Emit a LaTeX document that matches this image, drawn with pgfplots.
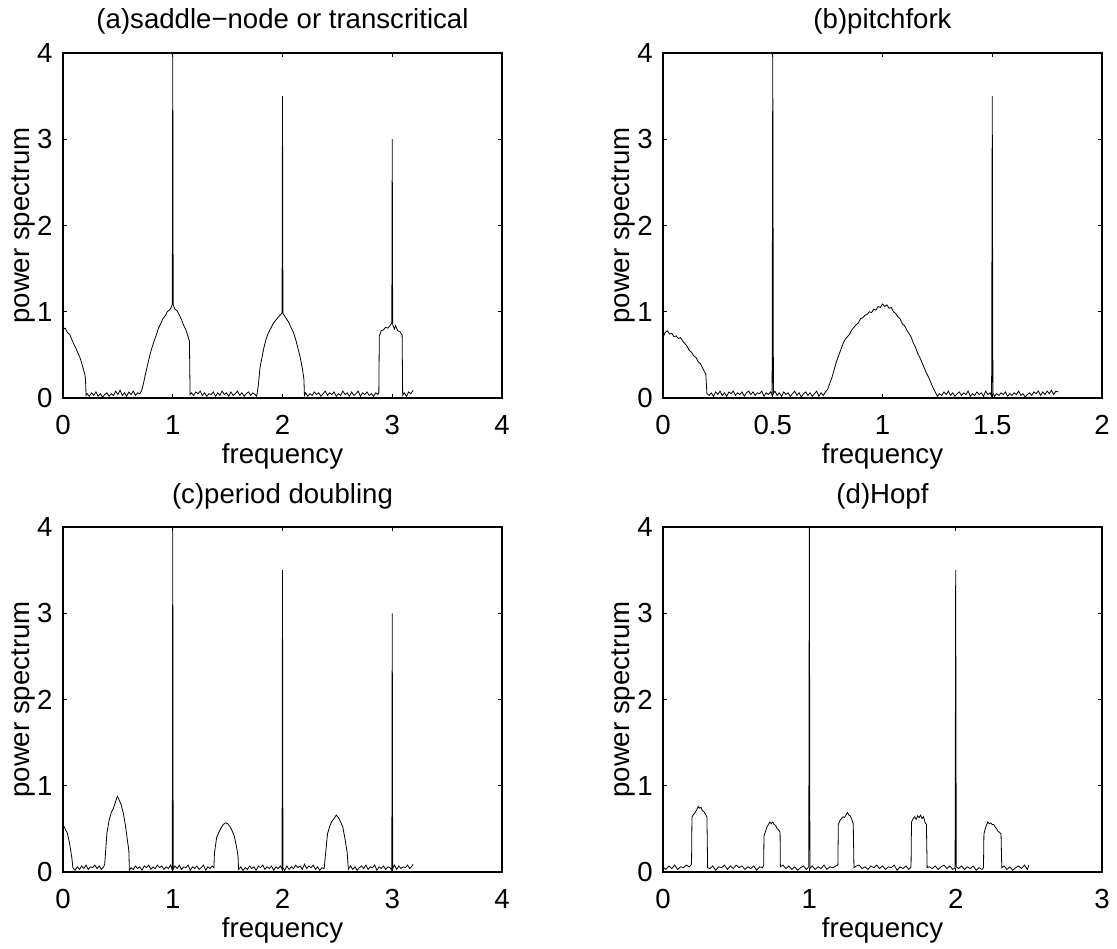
\documentclass[border=0pt]{standalone}
\usepackage{fontspec}
\setmainfont{Liberation Sans}
\usepackage{pgfplots}
\pgfplotsset{compat=1.18}

\pgfplotsset{
  spec/.style={
    width=219.5pt, height=172.5pt, scale only axis,
    ymin=0, ymax=4, ytick={0,1,2,3,4}, xmin=0,
    tick align=inside, major tick length=2.2pt,
    axis line style={line width=0.6pt},
    every tick/.style={black, line width=0.5pt},
    /pgf/number format/assume math mode=true,
    tick label style={font=\fontsize{13.8}{16}\selectfont},
    label style={font=\fontsize{13.8}{16}\selectfont},
    xticklabel style={anchor=north, inner sep=0pt, yshift=-8.5pt},
    yticklabel style={anchor=east, inner sep=0pt, xshift=-5pt},
    xlabel=frequency, ylabel=power spectrum,
    xlabel style={at={(axis description cs:0.5,-0.189)}, anchor=base},
    ylabel style={at={(axis description cs:-0.089,0.5)}, anchor=center},
    every axis title/.style={at={(axis description cs:0.5,1)}, anchor=base,
      yshift=12pt, inner sep=0pt, font=\fontsize{13.8}{16}\selectfont},
    scaled ticks=false,
    cycle list={{black, no markers, line width=0.6pt}},
  },
}

\begin{document}
\begin{tikzpicture}
\useasboundingbox (0,0) rectangle (558.5pt,474pt);

% (a)
\begin{axis}[spec, at={(31.5pt,275pt)}, anchor=south west,
  xmax=4, xtick={0,1,2,3,4}, title={(a)saddle−node or transcritical}]
\addplot coordinates {
(0,2.0) (0.004,0.80) (0.02,0.81) (0.04,0.76) (0.06,0.74) (0.08,0.68) (0.10,0.62) (0.12,0.57) (0.14,0.51) (0.16,0.45) (0.18,0.36) (0.20,0.27) (0.205,0.22) (0.21,0.03)
(0.22,0.05) (0.24,0.02) (0.26,0.06) (0.28,0.03) (0.30,0.07) (0.32,0.02) (0.34,0.05) (0.36,0.01) (0.38,0.04) (0.40,0.06) (0.42,0.02) (0.44,0.05) (0.46,0.03) (0.48,0.08) (0.50,0.04) (0.52,0.09) (0.54,0.03) (0.56,0.06) (0.58,0.02) (0.60,0.07) (0.62,0.04) (0.64,0.08) (0.66,0.03) (0.68,0.06) (0.70,0.05) (0.715,0.08)
(0.73,0.15) (0.75,0.27) (0.77,0.38) (0.79,0.49) (0.81,0.58) (0.83,0.66) (0.85,0.73) (0.87,0.81) (0.89,0.86) (0.91,0.92) (0.93,0.95) (0.95,1.00) (0.97,1.02) (0.99,1.06) (0.996,1.09) (1.0,4.0) (1.004,1.08) (1.02,1.03) (1.04,1.01) (1.06,0.96) (1.08,0.91) (1.10,0.84) (1.12,0.79) (1.14,0.71) (1.152,0.66) (1.158,0.04)
(1.17,0.06) (1.19,0.03) (1.21,0.07) (1.23,0.05) (1.25,0.08) (1.27,0.03) (1.29,0.06) (1.31,0.02) (1.33,0.05) (1.35,0.04) (1.37,0.07) (1.39,0.02) (1.41,0.06) (1.43,0.03) (1.45,0.08) (1.47,0.04) (1.49,0.06) (1.51,0.02) (1.53,0.07) (1.55,0.03) (1.57,0.05) (1.59,0.08) (1.61,0.03) (1.63,0.06) (1.65,0.02) (1.67,0.05) (1.69,0.07) (1.71,0.03) (1.73,0.06) (1.75,0.04) (1.765,0.02)
(1.78,0.15) (1.795,0.35) (1.81,0.45) (1.83,0.58) (1.85,0.68) (1.87,0.75) (1.89,0.80) (1.91,0.85) (1.93,0.89) (1.95,0.92) (1.97,0.95) (1.985,0.97) (1.996,0.99) (2.0,3.5) (2.004,0.98) (2.02,0.95) (2.04,0.91) (2.06,0.87) (2.08,0.81) (2.10,0.76) (2.12,0.68) (2.14,0.58) (2.16,0.48) (2.18,0.35) (2.195,0.22) (2.20,0.03)
(2.21,0.06) (2.23,0.02) (2.25,0.05) (2.27,0.03) (2.29,0.07) (2.31,0.04) (2.33,0.06) (2.35,0.02) (2.37,0.05) (2.39,0.08) (2.41,0.03) (2.43,0.06) (2.45,0.04) (2.47,0.07) (2.49,0.02) (2.51,0.05) (2.53,0.03) (2.55,0.08) (2.57,0.04) (2.59,0.06) (2.61,0.02) (2.63,0.07) (2.65,0.03) (2.67,0.05) (2.69,0.08) (2.71,0.02) (2.73,0.06) (2.75,0.04) (2.77,0.07) (2.79,0.03) (2.81,0.05) (2.83,0.02) (2.85,0.06) (2.87,0.04) (2.878,0.07)
(2.882,0.72) (2.90,0.78) (2.92,0.79) (2.94,0.82) (2.96,0.81) (2.98,0.84) (2.996,0.87) (3.0,3.0) (3.004,0.85) (3.02,0.80) (3.03,0.84) (3.05,0.78) (3.07,0.77) (3.09,0.73) (3.095,0.03)
(3.11,0.06) (3.13,0.02) (3.15,0.07) (3.17,0.05) (3.19,0.09)
};
\end{axis}

% (b)
\begin{axis}[spec, at={(331.5pt,275pt)}, anchor=south west,
  xmax=2, xtick={0,0.5,1,1.5,2}, title={(b)pitchfork}]
\addplot coordinates {
(0,0.70) (0.01,0.76) (0.02,0.78) (0.03,0.74) (0.04,0.75) (0.05,0.71) (0.06,0.72) (0.07,0.69) (0.08,0.70) (0.09,0.66) (0.10,0.63) (0.11,0.60) (0.12,0.55) (0.13,0.53) (0.14,0.49) (0.15,0.47) (0.16,0.42) (0.17,0.40) (0.18,0.35) (0.19,0.30) (0.195,0.28) (0.20,0.05)
(0.21,0.03) (0.22,0.06) (0.23,0.02) (0.24,0.07) (0.25,0.04) (0.26,0.08) (0.27,0.03) (0.28,0.06) (0.29,0.02) (0.30,0.07) (0.31,0.05) (0.32,0.08) (0.33,0.03) (0.34,0.06) (0.35,0.04) (0.36,0.07) (0.37,0.02) (0.38,0.06) (0.39,0.08) (0.40,0.04) (0.41,0.07) (0.42,0.03) (0.43,0.06) (0.44,0.05) (0.45,0.08) (0.46,0.02) (0.47,0.06) (0.48,0.04) (0.49,0.07) (0.497,0.03)
(0.50,4.0) (0.503,0.05)
(0.51,0.08) (0.52,0.03) (0.53,0.06) (0.54,0.02) (0.55,0.07) (0.56,0.04) (0.57,0.06) (0.58,0.02) (0.59,0.05) (0.60,0.08) (0.61,0.03) (0.62,0.06) (0.63,0.01) (0.64,0.05) (0.65,0.07) (0.66,0.03) (0.67,0.06) (0.68,0.02) (0.69,0.05) (0.70,0.08) (0.71,0.02) (0.72,0.06) (0.73,0.03) (0.74,0.07)
(0.75,0.10) (0.76,0.17) (0.77,0.24) (0.78,0.33) (0.79,0.42) (0.80,0.49) (0.81,0.56) (0.82,0.63) (0.83,0.68) (0.84,0.71) (0.85,0.74) (0.86,0.79) (0.87,0.82) (0.88,0.85) (0.89,0.87) (0.90,0.92) (0.91,0.93) (0.92,0.96) (0.93,0.97) (0.94,1.00) (0.95,0.99) (0.96,1.03) (0.97,1.02) (0.98,1.06) (0.99,1.05) (1.00,1.09) (1.01,1.06) (1.02,1.08) (1.03,1.04) (1.04,1.05) (1.05,1.00) (1.06,0.98) (1.07,0.94) (1.08,0.92) (1.09,0.86) (1.10,0.84) (1.11,0.79) (1.12,0.75) (1.13,0.71) (1.14,0.64) (1.15,0.59) (1.16,0.52) (1.17,0.47) (1.18,0.41) (1.19,0.35) (1.20,0.29) (1.21,0.24) (1.22,0.18) (1.23,0.12) (1.24,0.07) (1.25,0.02)
(1.26,0.05) (1.27,0.03) (1.28,0.07) (1.29,0.04) (1.30,0.08) (1.31,0.03) (1.32,0.06) (1.33,0.02) (1.34,0.05) (1.35,0.07) (1.36,0.03) (1.37,0.06) (1.38,0.04) (1.39,0.08) (1.40,0.02) (1.41,0.05) (1.42,0.03) (1.43,0.07) (1.44,0.04) (1.45,0.06) (1.46,0.02) (1.47,0.08) (1.48,0.04) (1.49,0.06) (1.497,0.02)
(1.50,3.5) (1.503,0.06)
(1.51,0.02) (1.52,0.05) (1.53,0.03) (1.54,0.06) (1.55,0.04) (1.56,0.07) (1.57,0.02) (1.58,0.05) (1.59,0.03) (1.60,0.06) (1.61,0.04) (1.62,0.08) (1.63,0.03) (1.64,0.05) (1.65,0.01) (1.66,0.04) (1.67,0.06) (1.68,0.03) (1.69,0.07) (1.70,0.05) (1.71,0.08) (1.72,0.03) (1.73,0.07) (1.74,0.04) (1.75,0.08) (1.76,0.05) (1.77,0.09) (1.78,0.04) (1.79,0.08) (1.80,0.07)
};
\end{axis}

% (c)
\begin{axis}[spec, at={(31.5pt,38pt)}, anchor=south west,
  xmax=4, xtick={0,1,2,3,4}, title={(c)period doubling}]
\addplot coordinates {
(0,2.0) (0.004,0.54) (0.02,0.50) (0.04,0.45) (0.06,0.33) (0.08,0.17) (0.09,0.05)
(0.11,0.02) (0.13,0.06) (0.15,0.03) (0.17,0.07) (0.19,0.04) (0.21,0.08) (0.23,0.03) (0.25,0.06) (0.27,0.05) (0.29,0.08) (0.31,0.04) (0.33,0.07) (0.35,0.03) (0.37,0.06) (0.38,0.09)
(0.40,0.45) (0.42,0.60) (0.44,0.69) (0.46,0.74) (0.48,0.82) (0.495,0.88) (0.51,0.84) (0.53,0.78) (0.55,0.68) (0.57,0.53) (0.59,0.34) (0.60,0.25) (0.605,0.02)
(0.62,0.05) (0.64,0.03) (0.66,0.07) (0.68,0.04) (0.70,0.06) (0.72,0.02) (0.74,0.07) (0.76,0.05) (0.78,0.08) (0.80,0.03) (0.82,0.06) (0.84,0.04) (0.86,0.08) (0.88,0.05) (0.90,0.07) (0.92,0.03) (0.94,0.06) (0.96,0.04) (0.98,0.08) (0.996,0.02)
(1.0,4.0) (1.004,0.03)
(1.02,0.07) (1.04,0.04) (1.06,0.08) (1.08,0.03) (1.10,0.06) (1.12,0.05) (1.14,0.08) (1.16,0.02) (1.18,0.06) (1.20,0.04) (1.22,0.07) (1.24,0.03) (1.26,0.05) (1.28,0.08) (1.30,0.02) (1.32,0.06) (1.34,0.04) (1.36,0.07) (1.375,0.05)
(1.38,0.22) (1.40,0.40) (1.42,0.46) (1.44,0.51) (1.46,0.55) (1.48,0.57) (1.50,0.56) (1.52,0.53) (1.54,0.48) (1.56,0.42) (1.58,0.30) (1.595,0.18) (1.60,0.03)
(1.62,0.06) (1.64,0.02) (1.66,0.05) (1.68,0.03) (1.70,0.07) (1.72,0.04) (1.74,0.06) (1.76,0.02) (1.78,0.07) (1.80,0.05) (1.82,0.08) (1.84,0.03) (1.86,0.06) (1.88,0.04) (1.90,0.07) (1.92,0.02) (1.94,0.06) (1.96,0.04) (1.98,0.07) (1.996,0.03)
(2.0,3.5) (2.004,0.05)
(2.02,0.02) (2.04,0.07) (2.06,0.03) (2.08,0.06) (2.10,0.04) (2.12,0.08) (2.14,0.05) (2.16,0.07) (2.18,0.03) (2.20,0.09) (2.22,0.04) (2.24,0.07) (2.26,0.05) (2.28,0.08) (2.30,0.03) (2.32,0.06) (2.34,0.02) (2.36,0.05) (2.38,0.04)
(2.39,0.18) (2.41,0.44) (2.43,0.53) (2.45,0.59) (2.47,0.62) (2.49,0.66) (2.51,0.63) (2.53,0.58) (2.55,0.52) (2.57,0.38) (2.59,0.22) (2.60,0.03)
(2.62,0.07) (2.64,0.03) (2.66,0.06) (2.68,0.02) (2.70,0.05) (2.72,0.07) (2.74,0.04) (2.76,0.08) (2.78,0.03) (2.80,0.06) (2.82,0.05) (2.84,0.08) (2.86,0.02) (2.88,0.06) (2.90,0.04) (2.92,0.07) (2.94,0.03) (2.96,0.06) (2.98,0.05) (2.996,0.02)
(3.0,3.0) (3.004,0.04)
(3.02,0.08) (3.04,0.03) (3.06,0.07) (3.08,0.04) (3.10,0.06) (3.12,0.05) (3.14,0.08) (3.16,0.04) (3.18,0.07) (3.19,0.09)
};
\end{axis}

% (d)
\begin{axis}[spec, at={(331.5pt,38pt)}, anchor=south west,
  xmax=3, xtick={0,1,2,3}, title={(d)Hopf}]
\addplot coordinates {
(0,2.0) (0.004,0.05) (0.02,0.03) (0.04,0.07) (0.06,0.04) (0.08,0.08) (0.10,0.03) (0.12,0.06) (0.14,0.05) (0.16,0.08) (0.18,0.06) (0.195,0.09)
(0.198,0.64) (0.21,0.67) (0.22,0.69) (0.23,0.72) (0.24,0.76) (0.25,0.74) (0.26,0.75) (0.27,0.71) (0.28,0.70) (0.29,0.67) (0.30,0.64) (0.305,0.05)
(0.32,0.04) (0.34,0.07) (0.36,0.02) (0.38,0.06) (0.40,0.05) (0.42,0.08) (0.44,0.03) (0.46,0.07) (0.48,0.04) (0.50,0.08) (0.52,0.05) (0.54,0.07) (0.56,0.03) (0.58,0.06) (0.60,0.04) (0.62,0.07) (0.64,0.02) (0.66,0.06) (0.68,0.05) (0.688,0.08)
(0.69,0.42) (0.70,0.47) (0.71,0.52) (0.72,0.55) (0.73,0.58) (0.74,0.56) (0.75,0.58) (0.76,0.55) (0.77,0.54) (0.78,0.50) (0.79,0.49) (0.80,0.46) (0.802,0.06)
(0.82,0.08) (0.84,0.04) (0.86,0.07) (0.88,0.03) (0.90,0.06) (0.92,0.02) (0.94,0.05) (0.96,0.07) (0.98,0.03) (0.996,0.06)
(1.0,4.0) (1.004,0.04)
(1.02,0.07) (1.04,0.03) (1.06,0.06) (1.08,0.04) (1.10,0.08) (1.12,0.03) (1.14,0.06) (1.16,0.05) (1.18,0.07) (1.195,0.08)
(1.198,0.55) (1.21,0.60) (1.22,0.62) (1.23,0.64) (1.24,0.63) (1.25,0.66) (1.26,0.69) (1.27,0.66) (1.28,0.65) (1.29,0.61) (1.30,0.56) (1.305,0.05)
(1.32,0.07) (1.34,0.08) (1.36,0.04) (1.38,0.06) (1.40,0.03) (1.42,0.07) (1.44,0.05) (1.46,0.08) (1.48,0.04) (1.50,0.07) (1.52,0.03) (1.54,0.06) (1.56,0.05) (1.58,0.08) (1.60,0.02) (1.62,0.06) (1.64,0.04) (1.66,0.07) (1.68,0.03) (1.695,0.06)
(1.698,0.58) (1.71,0.62) (1.72,0.64) (1.73,0.61) (1.74,0.65) (1.75,0.63) (1.76,0.66) (1.77,0.62) (1.78,0.64) (1.79,0.58) (1.80,0.55) (1.805,0.05)
(1.82,0.06) (1.84,0.04) (1.86,0.07) (1.88,0.03) (1.90,0.06) (1.92,0.08) (1.94,0.04) (1.96,0.07) (1.98,0.03) (1.996,0.05)
(2.0,3.5) (2.004,0.06)
(2.02,0.04) (2.04,0.07) (2.06,0.03) (2.08,0.06) (2.10,0.04) (2.12,0.07) (2.14,0.02) (2.16,0.05) (2.18,0.03) (2.19,0.05)
(2.193,0.44) (2.20,0.49) (2.21,0.54) (2.22,0.58) (2.23,0.56) (2.24,0.57) (2.25,0.55) (2.26,0.55) (2.27,0.52) (2.28,0.50) (2.29,0.47) (2.30,0.46) (2.31,0.44) (2.315,0.05)
(2.33,0.07) (2.35,0.03) (2.37,0.06) (2.39,0.02) (2.41,0.05) (2.43,0.07) (2.45,0.04) (2.47,0.08) (2.49,0.03) (2.50,0.08)
};
\end{axis}
\end{tikzpicture}
\end{document}
